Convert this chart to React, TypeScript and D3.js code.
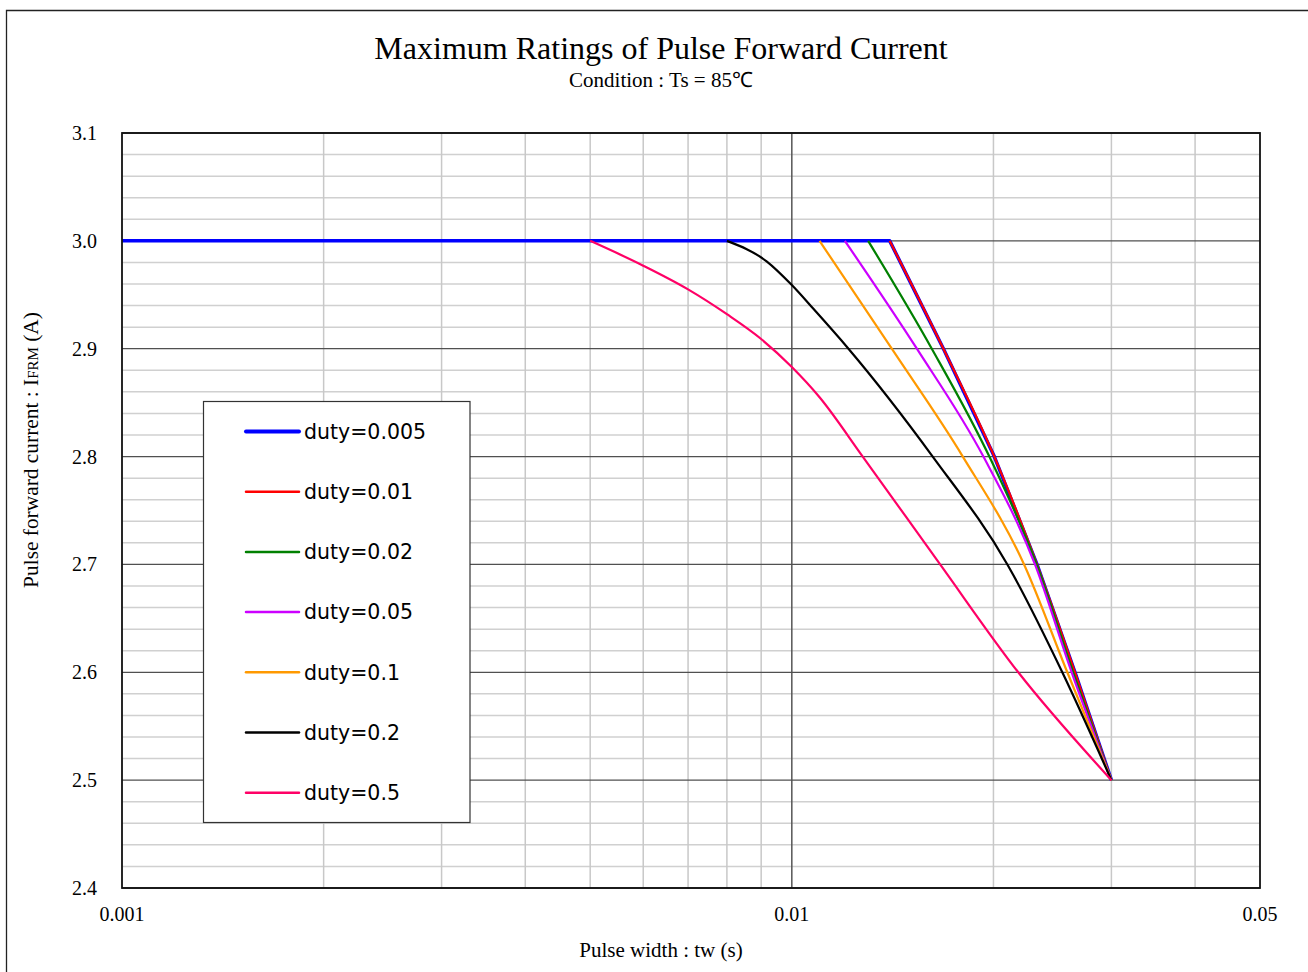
import React from "react";
import * as d3 from "d3";

const W = 1308;
const H = 972;

const xTickLabels = ["0.001", "0.01", "0.05"];
const xTickValues = [0.001, 0.01, 0.05];
const yTickValues = [2.4, 2.5, 2.6, 2.7, 2.8, 2.9, 3.0, 3.1];
const xGridValues = [0.002, 0.003, 0.004, 0.005, 0.006, 0.007, 0.008, 0.009, 0.01, 0.02, 0.03, 0.04];

const seriesNames = ["duty=0.005", "duty=0.01", "duty=0.02", "duty=0.05", "duty=0.1", "duty=0.2", "duty=0.5"];
const seriesColors = ["#0000ff", "#ff0000", "#008000", "#cc00ff", "#ff9900", "#000000", "#ff0066"];

const duty0005X = [0.001, 0.014, 0.01684, 0.02006, 0.02323, 0.02647, 0.03];
const duty0005Y = [3.0, 3.0, 2.9, 2.8, 2.7, 2.6, 2.5];
const duty001X = [0.014, 0.01684, 0.02006, 0.02323, 0.02647, 0.03];
const duty001Y = [3.0, 2.9, 2.8, 2.7, 2.6, 2.5];
const duty002X = [0.013, 0.01618, 0.01972, 0.0232, 0.0263, 0.03];
const duty002Y = [3.0, 2.9, 2.8, 2.7, 2.6, 2.5];
const duty005X = [0.012, 0.01537, 0.01932, 0.02307, 0.02617, 0.03];
const duty005Y = [3.0, 2.9, 2.8, 2.7, 2.6, 2.5];
const duty01X = [0.011, 0.0141, 0.018, 0.02222, 0.02578, 0.03];
const duty01Y = [3.0, 2.9, 2.8, 2.7, 2.6, 2.5];
const duty02X = [0.008, 0.00917, 0.01, 0.01077, 0.01215, 0.01623, 0.02098, 0.02534, 0.03];
const duty02Y = [3.0, 2.981, 2.959, 2.937, 2.9, 2.8, 2.7, 2.6, 2.5];
const duty05X = [0.005, 0.006, 0.007, 0.008, 0.009, 0.01, 0.011, 0.01276, 0.01665, 0.02178, 0.03];
const duty05Y = [3.0, 2.977, 2.955, 2.932, 2.909, 2.883, 2.855, 2.8, 2.7, 2.6, 2.5];

const seriesX = [duty0005X, duty001X, duty002X, duty005X, duty01X, duty02X, duty05X];
const seriesY = [duty0005Y, duty001Y, duty002Y, duty005Y, duty01Y, duty02Y, duty05Y];

const plotL = 122, plotR = 1260, plotT = 133, plotB = 888;

export default function App() {
  const x = d3.scaleLog().domain([0.001, 0.05]).range([plotL, plotR]);
  const y = d3.scaleLinear().domain([2.4, 3.1]).range([plotB, plotT]);

  const minorY = d3
    .range(0, 36)
    .map((i) => 2.4 + i * 0.02)
    .filter((v) => {
      const r = Math.abs((v * 10) % 1);
      return r > 0.05 && r < 0.95;
    });

  const smooth = d3
    .line<[number, number]>()
    .x((d) => x(d[0]))
    .y((d) => y(d[1]))
    .curve(d3.curveMonotoneX);
  const straight = d3
    .line<[number, number]>()
    .x((d) => x(d[0]))
    .y((d) => y(d[1]))
    .curve(d3.curveLinear);

  const serif = "'Liberation Serif', 'Times New Roman', serif";
  const sans = "'DejaVu Sans', Verdana, sans-serif";

  const legendRows = seriesNames.map((n, i) => 431.5 + i * 60.2);

  return (
    <svg width={W} height={H} style={{ position: "absolute", left: 0, top: 0, background: "#fff" }}>
      <rect x={0} y={0} width={W} height={H} fill="#fff" />
      {/* outer frame */}
      <path d={`M6.5,${H + 5} V10.5 H${W + 5}`} fill="none" stroke="#222" strokeWidth={1.3} />

      <text x={661} y={59} textAnchor="middle" fontFamily={serif} fontSize={32}>
        Maximum Ratings of Pulse Forward Current
      </text>
      <text x={661} y={87} textAnchor="middle" fontFamily={serif} fontSize={21}>
        Condition : Ts = 85℃
      </text>

      {/* minor horizontal grid */}
      {minorY.map((v, i) => (
        <line key={"my" + i} x1={plotL} x2={plotR} y1={y(v)} y2={y(v)} stroke="#d0d0d0" strokeWidth={1.5} />
      ))}
      {/* vertical grid */}
      {xGridValues.map((v, i) => (
        <line
          key={"xg" + i}
          x1={x(v)}
          x2={x(v)}
          y1={plotT}
          y2={plotB}
          stroke={v === 0.01 ? "#555" : "#c8c8c8"}
          strokeWidth={1.5}
        />
      ))}
      {/* major horizontal grid */}
      {yTickValues.map((v, i) => (
        <line key={"yg" + i} x1={plotL} x2={plotR} y1={y(v)} y2={y(v)} stroke="#505050" strokeWidth={1.3} />
      ))}

      {/* series */}
      {seriesX.map((xs, si) => {
        const pts: [number, number][] = xs.map((xv, k) => [xv, seriesY[si][k]]);
        const gen = si === 0 ? straight : smooth;
        return (
          <path
            key={"s" + si}
            d={gen(pts) || ""}
            fill="none"
            stroke={seriesColors[si]}
            strokeWidth={si === 0 ? 3.5 : 2.2}
            strokeLinejoin="round"
          />
        );
      })}

      {/* plot border */}
      <rect x={plotL} y={plotT} width={plotR - plotL} height={plotB - plotT} fill="none" stroke="#111" strokeWidth={1.8} />

      {/* y tick labels */}
      {yTickValues.map((v, i) => (
        <text key={"yt" + i} x={97} y={y(v)} dy="0.35em" textAnchor="end" fontFamily={serif} fontSize={20}>
          {v.toFixed(1)}
        </text>
      ))}
      {/* x tick labels */}
      {xTickValues.map((v, i) => (
        <text key={"xt" + i} x={x(v)} y={921} textAnchor="middle" fontFamily={serif} fontSize={20}>
          {xTickLabels[i]}
        </text>
      ))}

      <text x={661} y={957} textAnchor="middle" fontFamily={serif} fontSize={21}>
        Pulse width : tw (s)
      </text>
      <text transform={`translate(38,450) rotate(-90)`} textAnchor="middle" fontFamily={serif} fontSize={21.4}>
        Pulse forward current : I<tspan fontSize={15}>FRM</tspan> (A)
      </text>

      {/* legend */}
      <rect x={203.5} y={401.5} width={266.5} height={421} fill="#fff" stroke="#333" strokeWidth={1.2} />
      {seriesNames.map((n, i) => (
        <g key={"lg" + i}>
          <line
            x1={246}
            x2={299}
            y1={legendRows[i]}
            y2={legendRows[i]}
            stroke={seriesColors[i]}
            strokeWidth={i === 0 ? 4 : 2.5}
            strokeLinecap="round"
          />
          <text x={304} y={legendRows[i]} dy="0.36em" fontFamily={sans} fontSize={20.5}>
            {n}
          </text>
        </g>
      ))}
    </svg>
  );
}
